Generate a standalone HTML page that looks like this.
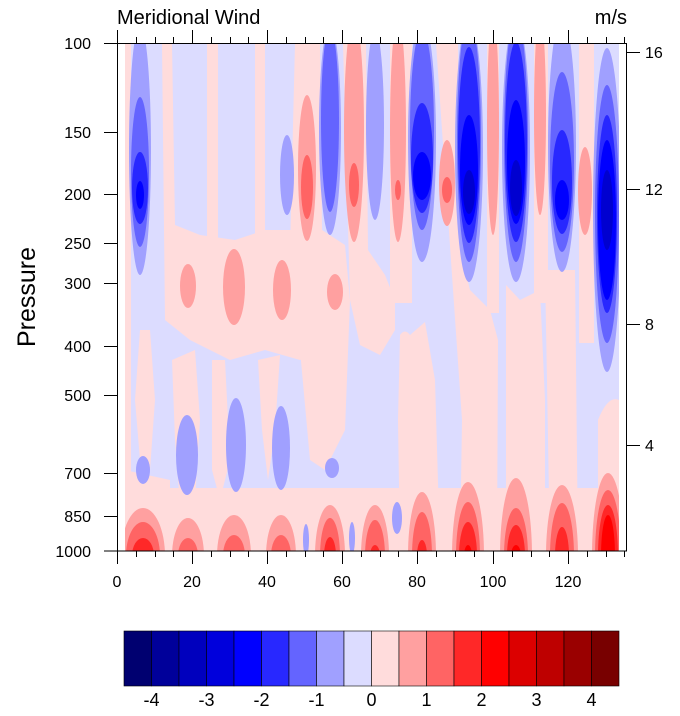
<!DOCTYPE html>
<html><head><meta charset="utf-8"><style>
html,body{margin:0;padding:0;background:#fff;}
svg{display:block;font-family:"Liberation Sans",sans-serif;}
</style></head><body>
<svg width="680" height="716" viewBox="0 0 680 716" xmlns="http://www.w3.org/2000/svg">
<defs><clipPath id="c"><rect x="125" y="43" width="494" height="508"/></clipPath></defs>
<g clip-path="url(#c)">
<rect x="120" y="40" width="510" height="520" fill="#DCDCFF"/>
<g fill="#FFDCDC">
<rect x="125" y="43" width="6" height="508"/>
<path d="M162 43 L172 43 L175 225 L200 235 L235 240 L265 230 L300 230 L320 235 L335 300 L330 350 L300 360 L265 350 L230 360 L190 340 L165 320 Z"/>
<rect x="207" y="43" width="11" height="200"/>
<rect x="255" y="43" width="10" height="200"/>
<path d="M295 43 L320 43 L322 230 L345 245 L350 300 L345 430 L325 470 L310 460 L300 350 L290 250 Z"/>
<path d="M343 43 L366 43 L368 250 L385 275 L395 300 L395 330 L380 355 L360 345 L350 300 Z"/>
<path d="M400 335 Q405 328 410 335 L425 322 L435 380 L440 551 L400 551 L398 420 Z"/>
<rect x="390" y="43" width="22" height="260"/>
<path d="M436 43 L458 43 L460 250 L470 290 L490 310 L498 340 L497 551 L460 551 L462 420 Z"/>
<rect x="487" y="43" width="12" height="270"/>
<path d="M506 285 L520 300 L540 290 L545 400 L545 551 L506 551 Z"/>
<rect x="534" y="43" width="14" height="260"/>
<path d="M545 270 L575 270 L578 551 L550 551 Z"/>
<rect x="579" y="43" width="15" height="300"/>
<path d="M598 420 Q608 395 619 400 L619 551 L598 551 Z"/>
<path d="M140 330 L150 330 L155 400 L150 470 L140 460 L135 400 Z"/>
<path d="M172 360 L195 350 L200 420 L195 500 L180 505 L175 440 Z"/>
<path d="M212 360 L225 360 L230 460 L220 500 L212 470 Z"/>
<path d="M258 360 L280 355 L275 430 L268 480 L262 430 Z"/>
<rect x="125" y="488" width="494" height="63"/>
<path d="M125 470 L170 480 L170 510 L125 510 Z"/>
</g>
<g fill="#A0A0FF">
<ellipse cx="140" cy="150" rx="11" ry="125"/>
<ellipse cx="287" cy="175" rx="7" ry="40"/>
<ellipse cx="330" cy="130" rx="11" ry="105"/>
<ellipse cx="375" cy="125" rx="9" ry="95"/>
<ellipse cx="422" cy="140" rx="14" ry="122"/>
<ellipse cx="469" cy="150" rx="14" ry="132"/>
<ellipse cx="516" cy="150" rx="14" ry="132"/>
<ellipse cx="562" cy="145" rx="14" ry="127"/>
<ellipse cx="607" cy="210" rx="14" ry="162"/>
<ellipse cx="143" cy="470" rx="7" ry="14"/>
<ellipse cx="187" cy="455" rx="11" ry="40"/>
<ellipse cx="236" cy="445" rx="10" ry="47"/>
<ellipse cx="281" cy="448" rx="9" ry="42"/>
<ellipse cx="332" cy="468" rx="7" ry="10"/>
<ellipse cx="306" cy="540" rx="3" ry="16"/>
<ellipse cx="352" cy="538" rx="3" ry="16"/>
<ellipse cx="397" cy="518" rx="5" ry="16"/>
</g>
<g fill="#6464FF">
<ellipse cx="140" cy="172" rx="9" ry="75"/>
<ellipse cx="330" cy="120" rx="9" ry="92"/>
<ellipse cx="422" cy="130" rx="12" ry="100"/>
<ellipse cx="469" cy="140" rx="12" ry="122"/>
<ellipse cx="516" cy="140" rx="12" ry="122"/>
<ellipse cx="562" cy="162" rx="12" ry="90"/>
<ellipse cx="607" cy="214" rx="12" ry="129"/>
</g>
<g fill="#2828FF">
<ellipse cx="140" cy="188" rx="8" ry="36"/>
<ellipse cx="422" cy="158" rx="11" ry="55"/>
<ellipse cx="469" cy="145" rx="11" ry="98"/>
<ellipse cx="516" cy="142" rx="11" ry="100"/>
<ellipse cx="562" cy="182" rx="10" ry="52"/>
<ellipse cx="607" cy="214" rx="10" ry="99"/>
</g>
<g fill="#0000FF">
<ellipse cx="140" cy="195" rx="4" ry="14"/>
<ellipse cx="422" cy="176" rx="9" ry="24"/>
<ellipse cx="469" cy="170" rx="9" ry="55"/>
<ellipse cx="516" cy="162" rx="9" ry="62"/>
<ellipse cx="562" cy="200" rx="7" ry="20"/>
<ellipse cx="607" cy="220" rx="9" ry="80"/>
</g>
<g fill="#0000D0">
<ellipse cx="469" cy="192" rx="6" ry="22"/>
<ellipse cx="516" cy="188" rx="6" ry="28"/>
<ellipse cx="607" cy="210" rx="6" ry="40"/>
</g>
<g fill="#FFA0A0">
<ellipse cx="307" cy="168" rx="9" ry="73"/>
<ellipse cx="354" cy="130" rx="10" ry="112"/>
<ellipse cx="398" cy="130" rx="8" ry="112"/>
<ellipse cx="447" cy="183" rx="8" ry="43"/>
<ellipse cx="493" cy="125" rx="6" ry="110"/>
<ellipse cx="540" cy="115" rx="6" ry="100"/>
<ellipse cx="585" cy="191" rx="7" ry="44"/>
<ellipse cx="188" cy="286" rx="8" ry="22"/>
<ellipse cx="234" cy="287" rx="11" ry="38"/>
<ellipse cx="282" cy="290" rx="9" ry="30"/>
<ellipse cx="335" cy="292" rx="8" ry="18"/>
</g>
<g fill="#FF6464">
<ellipse cx="307" cy="187" rx="6" ry="32"/>
<ellipse cx="354" cy="185" rx="5" ry="22"/>
<ellipse cx="398" cy="190" rx="3" ry="10"/>
<ellipse cx="447" cy="190" rx="5" ry="13"/>
</g>
<g fill="#FFA0A0">
<ellipse cx="143" cy="556" rx="22" ry="48"/>
<ellipse cx="188" cy="556" rx="16" ry="38"/>
<ellipse cx="234" cy="556" rx="17" ry="41"/>
<ellipse cx="281" cy="556" rx="15" ry="41"/>
<ellipse cx="330" cy="556" rx="15" ry="51"/>
<ellipse cx="375" cy="556" rx="14" ry="51"/>
<ellipse cx="422" cy="556" rx="14" ry="64"/>
<ellipse cx="468" cy="556" rx="16" ry="74"/>
<ellipse cx="516" cy="556" rx="16" ry="78"/>
<ellipse cx="562" cy="556" rx="16" ry="71"/>
<ellipse cx="608" cy="556" rx="16" ry="83"/>
</g>
<g fill="#FF6464">
<ellipse cx="143" cy="556" rx="17" ry="34"/>
<ellipse cx="188" cy="556" rx="10" ry="18"/>
<ellipse cx="234" cy="556" rx="11" ry="21"/>
<ellipse cx="281" cy="556" rx="10" ry="21"/>
<ellipse cx="330" cy="556" rx="10" ry="38"/>
<ellipse cx="375" cy="556" rx="10" ry="36"/>
<ellipse cx="422" cy="556" rx="10" ry="44"/>
<ellipse cx="468" cy="556" rx="12" ry="54"/>
<ellipse cx="516" cy="556" rx="12" ry="48"/>
<ellipse cx="562" cy="556" rx="12" ry="53"/>
<ellipse cx="608" cy="556" rx="13" ry="66"/>
</g>
<g fill="#FF2828">
<ellipse cx="143" cy="556" rx="11" ry="18"/>
<ellipse cx="330" cy="556" rx="6" ry="19"/>
<ellipse cx="375" cy="556" rx="5" ry="11"/>
<ellipse cx="422" cy="556" rx="5" ry="16"/>
<ellipse cx="468" cy="556" rx="9" ry="34"/>
<ellipse cx="516" cy="556" rx="9" ry="31"/>
<ellipse cx="562" cy="556" rx="7" ry="29"/>
<ellipse cx="608" cy="556" rx="10" ry="51"/>
</g>
<g fill="#FF0000">
<ellipse cx="468" cy="556" rx="4" ry="11"/>
<ellipse cx="516" cy="556" rx="5" ry="11"/>
<ellipse cx="608" cy="556" rx="7" ry="41"/>
</g>
</g>
<rect x="117.5" y="43.5" width="509" height="507.5" fill="none" stroke="#000" stroke-width="1"/>
<g stroke="#000" stroke-width="1">
<path d="M117.5 551v13M192.5 551v13M267.5 551v13M342.5 551v13M417.5 551v13M493.5 551v13M568.5 551v13"/>
<path d="M136.5 551v6M155.5 551v6M173.5 551v6M211.5 551v6M230.5 551v6M248.5 551v6M286.5 551v6M305.5 551v6M323.5 551v6M361.5 551v6M380.5 551v6M398.5 551v6M436.5 551v6M455.5 551v6M474.5 551v6M512.5 551v6M531.5 551v6M549.5 551v6M587.5 551v6M606.5 551v6M624.5 551v6"/>
<path d="M117.5 43v-13M192.5 43v-13M267.5 43v-13M342.5 43v-13M417.5 43v-13M493.5 43v-13M568.5 43v-13"/>
<path d="M136.5 43v-6M155.5 43v-6M173.5 43v-6M211.5 43v-6M230.5 43v-6M248.5 43v-6M286.5 43v-6M305.5 43v-6M323.5 43v-6M361.5 43v-6M380.5 43v-6M398.5 43v-6M436.5 43v-6M455.5 43v-6M474.5 43v-6M512.5 43v-6M531.5 43v-6M549.5 43v-6M587.5 43v-6M606.5 43v-6M624.5 43v-6"/>
<path d="M104 43.5h13M104 132.5h13M104 194.5h13M104 243.5h13M104 283.5h13M104 346.5h13M104 395.5h13M104 473.5h13M104 516.5h13M104 551h13"/>
<path d="M627 52.5h13M627 189.5h13M627 324.5h13M627 445.5h13"/>
</g>
<g font-size="16" fill="#000">
<g text-anchor="middle">
<text x="117" y="587">0</text><text x="192" y="587">20</text><text x="267" y="587">40</text><text x="342" y="587">60</text><text x="417" y="587">80</text><text x="493" y="587">100</text><text x="568" y="587">120</text>
</g>
<g text-anchor="end">
<text x="91" y="49">100</text><text x="91" y="138">150</text><text x="91" y="200">200</text><text x="91" y="249">250</text><text x="91" y="289">300</text><text x="91" y="352">400</text><text x="91" y="401">500</text><text x="91" y="479">700</text><text x="91" y="522">850</text><text x="91" y="557">1000</text>
</g>
<text x="645" y="58">16</text><text x="645" y="195">12</text><text x="645" y="330">8</text><text x="645" y="451">4</text>
</g>
<text x="117" y="24" font-size="20">Meridional Wind</text>
<text x="627" y="24" font-size="20" text-anchor="end">m/s</text>
<text transform="translate(35 297) rotate(-90)" font-size="25" text-anchor="middle">Pressure</text>
<g stroke="#000" stroke-width="0.6">
<rect x="124" y="631" width="27.5" height="55" fill="#000070"/>
<rect x="151.5" y="631" width="27.5" height="55" fill="#00009A"/>
<rect x="179" y="631" width="27.5" height="55" fill="#0000BE"/>
<rect x="206.5" y="631" width="27.5" height="55" fill="#0000DC"/>
<rect x="234" y="631" width="27.5" height="55" fill="#0000FF"/>
<rect x="261.5" y="631" width="27.5" height="55" fill="#2828FF"/>
<rect x="289" y="631" width="27.5" height="55" fill="#6464FF"/>
<rect x="316.5" y="631" width="27.5" height="55" fill="#A0A0FF"/>
<rect x="344" y="631" width="27.5" height="55" fill="#DCDCFF"/>
<rect x="371.5" y="631" width="27.5" height="55" fill="#FFDCDC"/>
<rect x="399" y="631" width="27.5" height="55" fill="#FFA0A0"/>
<rect x="426.5" y="631" width="27.5" height="55" fill="#FF6464"/>
<rect x="454" y="631" width="27.5" height="55" fill="#FF2828"/>
<rect x="481.5" y="631" width="27.5" height="55" fill="#FF0000"/>
<rect x="509" y="631" width="27.5" height="55" fill="#DC0000"/>
<rect x="536.5" y="631" width="27.5" height="55" fill="#BE0000"/>
<rect x="564" y="631" width="27.5" height="55" fill="#9A0000"/>
<rect x="591.5" y="631" width="27.5" height="55" fill="#780000"/>
</g>
<g font-size="18" text-anchor="middle">
<text x="151.5" y="706">-4</text><text x="206.5" y="706">-3</text><text x="261.5" y="706">-2</text><text x="316.5" y="706">-1</text><text x="371.5" y="706">0</text><text x="426.5" y="706">1</text><text x="481.5" y="706">2</text><text x="536.5" y="706">3</text><text x="591.5" y="706">4</text>
</g>
</svg>
</body></html>
